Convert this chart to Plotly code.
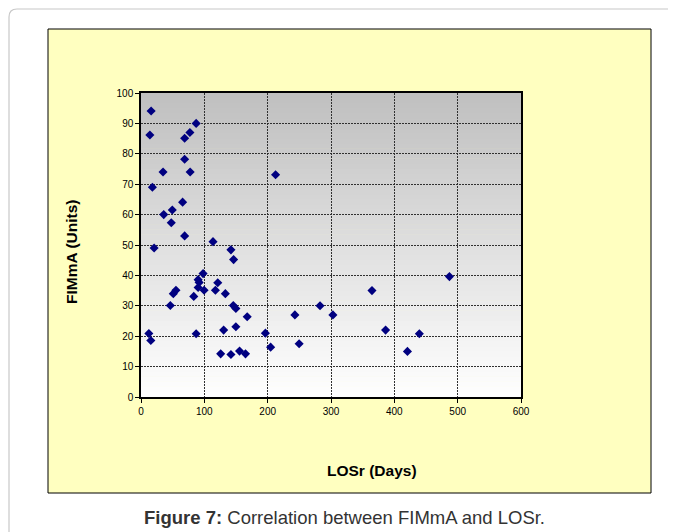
import plotly.graph_objects as go

# Data (LOSr in days, FIMmA in units)
los_days = [16.0, 14.0, 87.1, 77.2, 68.9, 68.9, 34.8, 77.6, 18.0, 65.7,
            35.9, 49.4, 47.8, 68.9, 20.7, 113.7, 142.0, 146.2, 98.0, 90.2,
            91.8, 90.2, 99.6, 121.2, 117.5, 55.2, 51.0, 83.3, 133.2, 46.3,
            145.7, 149.8, 167.7, 12.4, 15.5, 87.1, 130.5, 149.8, 125.8, 142.0,
            155.6, 165.0, 212.5, 487.0, 364.7, 282.7, 243.0, 303.0, 196.4, 204.7,
            249.7, 386.2, 439.5, 420.7]
fimma_units = [94.1, 86.2, 90.0, 87.0, 85.1, 78.2, 74.0, 74.0, 69.0, 64.1,
               60.0, 61.5, 57.3, 53.0, 49.0, 51.1, 48.4, 45.2, 40.6, 38.6,
               37.7, 36.0, 35.1, 37.6, 35.1, 35.1, 34.0, 33.1, 34.0, 30.1,
               30.1, 29.1, 26.4, 20.9, 18.6, 20.8, 22.0, 23.1, 14.2, 14.0,
               15.1, 14.2, 73.1, 39.6, 35.0, 30.0, 27.0, 27.0, 21.0, 16.4,
               17.5, 22.0, 20.8, 15.0]

x_ticks = [0, 100, 200, 300, 400, 500, 600]
y_ticks = [0, 10, 20, 30, 40, 50, 60, 70, 80, 90, 100]

OFF = 8  # page body margin
W, H = 676 - OFF, 532 - OFF
L, R, T, B = 141 - OFF, 521 - OFF, 93 - OFF, 397 - OFF


def px_to_paper(xp, yp):
    xp -= OFF
    yp -= OFF
    return (xp - L) / (R - L), (B - yp) / (B - T)


fig = go.Figure()
fig.add_trace(go.Scatter(
    x=los_days, y=fimma_units, mode="markers",
    marker=dict(symbol="diamond", size=7, color="#000080",
                line=dict(width=0)),
    showlegend=False, hoverinfo="x+y"))

shapes = []
# card border (rounded, extends past right/bottom)
x0p, ytop = px_to_paper(9, 9)
xr, _ = px_to_paper(700, 9)
_, ybot = px_to_paper(9, 560)
_, yc = px_to_paper(9, 17)
xc, _ = px_to_paper(17, 9)
shapes.append(dict(type="path", xref="paper", yref="paper",
                   path=(f"M {x0p},{ybot} L {x0p},{yc} Q {x0p},{ytop} {xc},{ytop} "
                         f"L {xr},{ytop}"),
                   line=dict(color="#c8c8c8", width=1.2), layer="below"))
# yellow chart box
bx0, by1 = px_to_paper(48, 29)
bx1, by0 = px_to_paper(651, 493)
shapes.append(dict(type="rect", xref="paper", yref="paper",
                   x0=bx0, x1=bx1, y0=by0, y1=by1,
                   fillcolor="#FFFFC0", line=dict(color="#000000", width=1),
                   layer="below"))
# gradient plot area: grey at top to white at bottom
n = 60
for i in range(n):
    f = (i + 0.5) / n
    c = int(round(255 - (255 - 191) * f))
    shapes.append(dict(type="rect", xref="x domain", yref="y domain",
                       x0=0, x1=1, y0=i / n, y1=(i + 1) / n + 0.002,
                       fillcolor=f"rgb({c},{c},{c})", line=dict(width=0),
                       layer="below"))

fig.update_layout(shapes=shapes)

axis_common = dict(showline=True, mirror=True, linecolor="#000000", linewidth=1.5,
                   ticks="outside", ticklen=4, tickcolor="#000000", tickwidth=1,
                   showgrid=True, gridcolor="#303030", gridwidth=1, griddash="2px,1px",
                   zeroline=False,
                   tickfont=dict(family="Liberation Sans, Arial", size=10, color="#000000"))

fig.update_xaxes(range=[0, 600], tickvals=x_ticks, ticktext=[str(v) for v in x_ticks],
                 **axis_common)
fig.update_yaxes(range=[0, 100], tickvals=y_ticks, ticktext=[str(v) for v in y_ticks],
                 **axis_common)

ann = []
ax, ay = px_to_paper(71, 252)
ann.append(dict(text="<b>FIMmA (Units)</b>", xref="paper", yref="paper", x=ax, y=ay,
                xanchor="center", yanchor="middle",
                textangle=-90, showarrow=False,
                font=dict(family="Liberation Sans, Arial", size=15.5, color="#000000")))
tx, ty = px_to_paper(372, 470)
ann.append(dict(text="<b>LOSr (Days)</b>", xref="paper", yref="paper", x=tx, y=ty,
                xanchor="center", yanchor="middle", showarrow=False,
                font=dict(family="Liberation Sans, Arial", size=15.5, color="#000000")))
cx, cy = px_to_paper(344, 517)
ann.append(dict(text="<b>Figure 7:</b> Correlation between FIMmA and LOSr.",
                xref="paper", yref="paper", x=cx, y=cy,
                xanchor="center", yanchor="middle", showarrow=False,
                font=dict(family="Liberation Sans, Arial", size=18.5, color="#333333")))

fig.update_layout(
    width=W, height=H, autosize=False,
    margin=dict(l=L, r=W - R, t=T, b=H - B, pad=0),
    paper_bgcolor="#FFFFFF", plot_bgcolor="rgba(0,0,0,0)",
    annotations=ann, showlegend=False)

fig.write_html("out.html")
